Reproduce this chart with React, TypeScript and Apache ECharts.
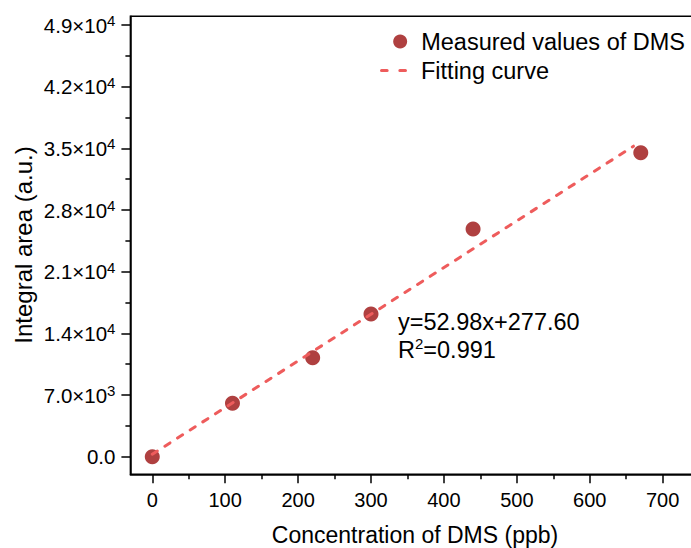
import React, { useEffect, useRef } from "react";
import * as echarts from "echarts";

const concentrations = [0, 110, 220, 300, 440, 670];
const integralAreas = [0, 6060, 11240, 16200, 25850, 34500];
const fitX = [0, 660];
const fitY = [278, 35244];
const xTicks = [0, 100, 200, 300, 400, 500, 600, 700];
const xMinorTicks = [50, 150, 250, 350, 450, 550, 650];
const yTicks = [0, 7000, 14000, 21000, 28000, 35000, 42000, 49000];
const yMinorTicks = [3500, 10500, 17500, 24500, 31500, 38500, 45500];
const equationText = "y=52.98x+277.60";
const r2Text = "0.991";

const FONT = "'Liberation Sans', Arial, sans-serif";

function yLabel(v: number): string {
  if (v === 0) return "{m|0.0}";
  const e = Math.floor(Math.log10(v) + 1e-9);
  const m = (v / Math.pow(10, e)).toFixed(1);
  return `{m|${m}×10}{s|${e}}`;
}

export default function App() {
  const ref = useRef<HTMLDivElement>(null);
  useEffect(() => {
    if (!ref.current) return;
    const chart = echarts.init(ref.current, undefined, { renderer: "svg" });
    const black = "#000";
    const lineColor = "#EE5C5C";
    chart.setOption({
      animation: false,
      textStyle: { fontFamily: FONT },
      grid: {
        left: 130.4,
        top: 16.2,
        width: 568.7,
        height: 458.1,
        show: true,
        borderColor: black,
        borderWidth: 1.5,
        outerBoundsMode: "none",
        containLabel: false,
      },
      xAxis: [
        {
          type: "value",
          min: -30,
          max: 750,
          position: "bottom",
          axisLine: { onZero: false, lineStyle: { color: black, width: 1.5 } },
          axisTick: { customValues: xTicks, length: 9, lineStyle: { color: black, width: 1.5 } },
          axisLabel: { customValues: xTicks, margin: 16, fontSize: 20, color: black, fontFamily: FONT },
          splitLine: { show: false },
        },
        {
          type: "value",
          min: -30,
          max: 750,
          position: "bottom",
          axisLine: { show: false, onZero: false },
          axisTick: { customValues: xMinorTicks, length: 5, lineStyle: { color: black, width: 1.5 } },
          axisLabel: { show: false },
          splitLine: { show: false },
        },
      ],
      yAxis: [
        {
          type: "value",
          min: -2000,
          max: 50000,
          position: "left",
          axisLine: { onZero: false, lineStyle: { color: black, width: 1.5 } },
          axisTick: { customValues: yTicks, length: 9, lineStyle: { color: black, width: 1.5 } },
          axisLabel: {
            customValues: yTicks,
            margin: 15,
            color: black,
            formatter: (v: number) => yLabel(v),
            rich: {
              m: { fontSize: 20.5, lineHeight: 24, color: black, fontFamily: FONT, verticalAlign: "middle" },
              s: { fontSize: 15, lineHeight: 15, color: black, fontFamily: FONT, verticalAlign: "top" },
            },
          },
          splitLine: { show: false },
        },
        {
          type: "value",
          min: -2000,
          max: 50000,
          position: "left",
          axisLine: { show: false, onZero: false },
          axisTick: { customValues: yMinorTicks, length: 5, lineStyle: { color: black, width: 1.5 } },
          axisLabel: { show: false },
          splitLine: { show: false },
        },
      ],
      legend: [
        {
          data: [{ name: "Measured values of DMS", icon: "circle" }],
          right: 6,
          top: 29.5,
          padding: 0,
          itemWidth: 32,
          itemHeight: 14,
          textStyle: { fontSize: 23.5, color: black, fontFamily: FONT },
        },
        {
          data: [
            {
              name: "Fitting curve",
              icon: "path://M1.5,0h5.5a1.5,1.5,0,0,1,0,3h-5.5a1.5,1.5,0,0,1,0,-3z M19.5,0h5.5a1.5,1.5,0,0,1,0,3h-5.5a1.5,1.5,0,0,1,0,-3z",
            },
          ],
          left: 380,
          top: 58.5,
          padding: 0,
          itemWidth: 27,
          itemHeight: 14,
          itemStyle: { color: lineColor, borderWidth: 0, opacity: 1 },
          textStyle: { fontSize: 23.5, color: black, fontFamily: FONT, padding: [0, 0, 0, 9] },
        },
      ],
      series: [
        {
          name: "Measured values of DMS",
          type: "scatter",
          xAxisIndex: 0,
          yAxisIndex: 0,
          data: concentrations.map((c, i) => [c, integralAreas[i]]),
          symbol: "circle",
          symbolSize: 15,
          itemStyle: { color: "#9B1010" },
          z: 2,
        },
        {
          name: "Fitting curve",
          type: "line",
          xAxisIndex: 0,
          yAxisIndex: 0,
          data: fitX.map((x, i) => [x, fitY[i]]),
          symbol: "none",
          lineStyle: { color: lineColor, width: 3, type: [6, 9], cap: "round" },
          itemStyle: { color: lineColor },
          z: 3,
        },
      ],
      graphic: [
        {
          type: "text",
          x: 23,
          y: 245,
          rotation: Math.PI / 2,
          style: {
            text: "Integral area (a.u.)",
            fontSize: 24,
            fontFamily: FONT,
            fill: black,
            align: "center",
            verticalAlign: "middle",
          },
        },
        {
          type: "text",
          x: 415,
          y: 535,
          style: {
            text: "Concentration of DMS (ppb)",
            fontSize: 23,
            fontFamily: FONT,
            fill: black,
            align: "center",
            verticalAlign: "middle",
          },
        },
        {
          type: "text",
          x: 398,
          y: 321.5,
          style: {
            text: equationText,
            fontSize: 23.5,
            fontFamily: FONT,
            fill: black,
            align: "left",
            verticalAlign: "middle",
          },
        },
        {
          type: "text",
          x: 398,
          y: 349.5,
          style: {
            text: `{m|R}{s|2}{m|=${r2Text}}`,
            fontSize: 23.5,
            fontFamily: FONT,
            fill: black,
            align: "left",
            verticalAlign: "middle",
            rich: {
              m: { fontSize: 23.5, lineHeight: 27, fontFamily: FONT, fill: black, verticalAlign: "middle" },
              s: { fontSize: 15, lineHeight: 15, fontFamily: FONT, fill: black, verticalAlign: "top" },
            },
          },
        },
      ],
    });
    return () => chart.dispose();
  }, []);
  return (
    <div
      ref={ref}
      style={{ position: "fixed", left: 0, top: 0, width: 691, height: 548, background: "#fff" }}
    />
  );
}
